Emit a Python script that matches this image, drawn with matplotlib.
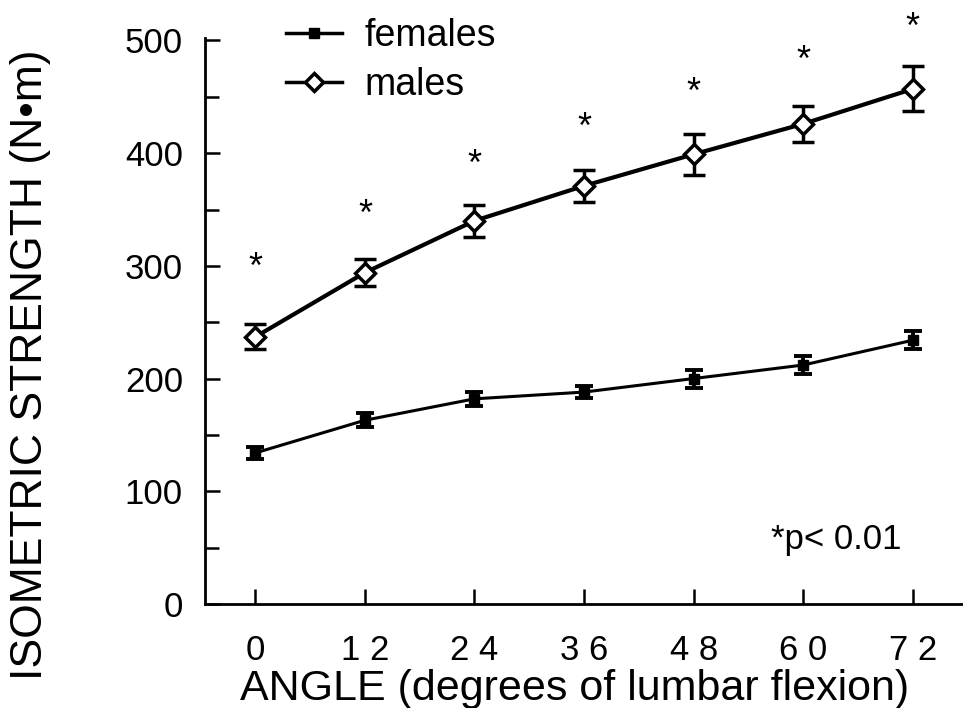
import matplotlib
matplotlib.use("Agg")
import matplotlib.pyplot as plt
from matplotlib.lines import Line2D
from matplotlib.ticker import MultipleLocator

angles = [0, 12, 24, 36, 48, 60, 72]
angle_labels = ["0", "1 2", "2 4", "3 6", "4 8", "6 0", "7 2"]
males = [237, 294, 340, 371, 399, 426, 457]
males_err = [11, 12, 14, 14, 18, 16, 20]
females = [134, 163, 182, 188, 200, 212, 234]
females_err = [5, 6, 6, 5, 8, 8, 8]
star_y = [298, 345, 389, 422, 453, 481, 511]
y_ticks = [0, 100, 200, 300, 400, 500]

plt.rcParams['font.family'] = ['Liberation Sans', 'DejaVu Sans']

W, H = 963, 708
fig = plt.figure(figsize=(W / 100, H / 100), dpi=100)
ax = fig.add_axes([0.213, 0.147, 0.787, 0.799])

ax.errorbar(angles, females, yerr=females_err, color='black', lw=2.2,
            marker='s', ms=7, mfc='black', mec='black',
            capsize=6.5, capthick=2.8, elinewidth=2.8)
ax.errorbar(angles, males, yerr=males_err, color='black', lw=3,
            marker='D', ms=10, mfc='white', mec='black', mew=2.5,
            capsize=8, capthick=2.5, elinewidth=2.5)

for a, s in zip(angles, star_y):
    ax.text(a, s, '*', ha='center', va='center', fontsize=26, clip_on=False)

ax.text(70.8, 57, '*p< 0.01', ha='right', va='center', fontsize=25)

ax.set_xlim(-5.5, 77.5)
ax.set_ylim(0, 502)
ax.set_xticks(angles)
ax.set_xticklabels(angle_labels)
ax.set_yticks(y_ticks)
ax.yaxis.set_minor_locator(MultipleLocator(50))
ax.tick_params(axis='both', which='major', direction='in', length=11,
               width=1.8, labelsize=25, pad=16)
ax.tick_params(axis='y', which='minor', direction='in', length=10, width=1.8)
ax.tick_params(axis='x', which='major', pad=22)
for sp in ['top', 'right']:
    ax.spines[sp].set_visible(False)
for sp in ['left', 'bottom']:
    ax.spines[sp].set_linewidth(2)

fig.text(575 / W, 1 - 700 / H, 'ANGLE (degrees of lumbar flexion)',
         ha='center', va='baseline', fontsize=31)
fig.text(31 / W, 1 - 365 / H, 'ISOMETRIC STRENGTH (N•m)', rotation=90,
         ha='center', va='center', fontsize=32)

h_f = Line2D([], [], color='black', lw=2.5, marker='s', ms=7,
             mfc='black', mec='black')
h_m = Line2D([], [], color='black', lw=2.5, marker='D', ms=9,
             mfc='white', mec='black', mew=2.5)
ax.legend([h_f, h_m], ['females', 'males'], loc='upper left',
          bbox_to_anchor=(0.062, 1.096), frameon=False, fontsize=27,
          handlelength=1.5, handletextpad=0.6, labelspacing=0.35)

fig.savefig('out.png', dpi=100)
